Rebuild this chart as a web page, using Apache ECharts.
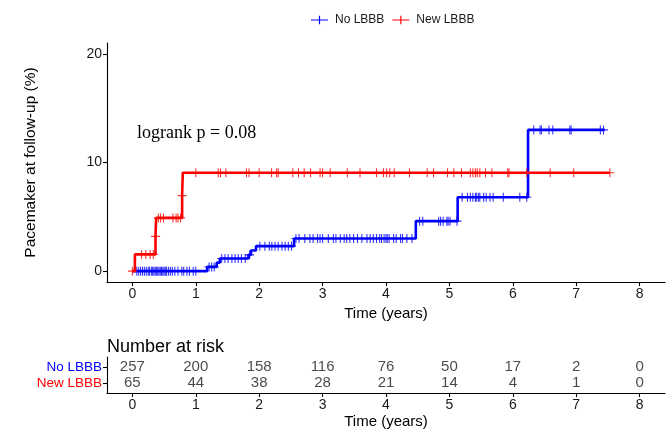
<!DOCTYPE html>
<html><head><meta charset="utf-8">
<script src="https://cdn.jsdelivr.net/npm/echarts@6/dist/echarts.min.js"></script>
<style>html,body{margin:0;padding:0;background:#fff}#c{width:670px;height:436px}</style>
</head><body><div id="c"></div>
<script>
// ---- data ----
const groups = ['No LBBB', 'New LBBB'];
const blueTimes = [0, 1.18, 1.33, 1.38, 1.83, 1.87, 1.95, 2.55, 4.47, 5.13, 6.24];
const blueValues = [0, 0.39, 0.78, 1.17, 1.5, 1.9, 2.3, 3.0, 4.6, 6.8, 13.0];
const blueEnd = 7.45;
const blueCensor = [0.07, 0.1, 0.13, 0.16, 0.19, 0.22, 0.25, 0.27, 0.3, 0.32, 0.34, 0.36, 0.38, 0.4, 0.42, 0.44, 0.46, 0.48, 0.5, 0.52, 0.54, 0.57, 0.6, 0.63, 0.67, 0.72, 0.78, 0.81, 0.86, 0.9, 0.96, 1.0, 1.21, 1.25, 1.29, 1.41, 1.46, 1.51, 1.57, 1.62, 1.67, 1.72, 1.78, 1.85, 2.01, 2.09, 2.16, 2.2, 2.25, 2.3, 2.36, 2.41, 2.46, 2.51, 2.58, 2.63, 2.72, 2.8, 2.85, 2.92, 2.96, 3.0, 3.09, 3.17, 3.21, 3.28, 3.34, 3.38, 3.43, 3.49, 3.55, 3.62, 3.7, 3.75, 3.8, 3.85, 3.9, 3.93, 3.97, 4.0, 4.02, 4.05, 4.12, 4.16, 4.23, 4.26, 4.33, 4.41, 4.53, 4.58, 4.83, 4.86, 4.9, 4.96, 4.98, 5.01, 5.12, 5.2, 5.285, 5.33, 5.37, 5.41, 5.43, 5.46, 5.48, 5.54, 5.58, 5.64, 5.69, 5.85, 6.11, 6.22, 6.33, 6.43, 6.45, 6.57, 6.63, 6.9, 6.92, 7.38, 7.43];
const redTimes = [0, 0.04, 0.365, 0.375, 0.785, 0.795];
const redValues = [0, 1.54, 3.2, 4.9, 6.95, 9.06];
const redEnd = 7.53;
const redCensor = [0, 0.145, 0.21, 0.28, 0.33, 0.365, 0.41, 0.445, 0.49, 0.64, 0.69, 0.72, 0.76, 0.785, 1.0, 1.355, 1.39, 1.475, 1.80, 1.84, 2.0, 2.195, 2.275, 2.30, 2.53, 2.62, 2.71, 2.81, 2.96, 3.0, 3.12, 3.39, 3.59, 3.85, 3.96, 4.01, 4.06, 4.13, 4.37, 4.65, 4.75, 4.97, 5.07, 5.19, 5.33, 5.37, 5.41, 5.44, 5.48, 5.57, 5.67, 5.92, 5.94, 6.22, 6.59, 6.96, 7.53];
const riskTimes = [0, 1, 2, 3, 4, 5, 6, 7, 8];
const riskNoLBBB = [257, 200, 158, 116, 76, 50, 17, 2, 0];
const riskNewLBBB = [65, 44, 38, 28, 21, 14, 4, 1, 0];
const xTicks = [0, 1, 2, 3, 4, 5, 6, 7, 8];
const yTicks = [0, 10, 20];
const pText = 'logrank p = 0.08';

// ---- helpers ----
function stepData(times, values, end) {
  const d = times.map((t, i) => [t, values[i]]);
  d.push([end, values[values.length - 1]]);
  return d;
}
function valueAt(times, values, t) {
  let v = values[0];
  for (let i = 0; i < times.length; i++) if (times[i] <= t + 1e-9) v = values[i];
  return v;
}
const plus = 'path://M4.4,0 H5.6 V4.4 H10 V5.6 H5.6 V10 H4.4 V5.6 H0 V4.4 H4.4 Z';
const legendIcon = 'path://M0,4.4 H9.3 V0 H10.7 V4.4 H20 V5.6 H10.7 V10 H9.3 V5.6 H0 Z';
const BLUE = '#0000FF', RED = '#FF0000', TXT = '#1a1a1a';
const SANS = 'Liberation Sans';

const chart = echarts.init(document.getElementById('c'), null, {renderer: 'canvas'});
const axisLine = {show: true, onZero: false, lineStyle: {color: '#000', width: 1.1}};
const axisTick = (vals) => ({show: true, length: 4, lineStyle: {color: '#000', width: 1.1}, customValues: vals});

chart.setOption({
  animation: false,
  backgroundColor: '#fff',
  title: [
    {text: pText, left: 132, top: 119, textStyle: {fontFamily: 'Liberation Serif', fontWeight: 'normal', fontSize: 18, color: '#000'}},
    {text: 'Number at risk', left: 102, top: 333, textStyle: {fontFamily: SANS, fontWeight: 'normal', fontSize: 18, color: '#000'}}
  ],
  legend: {
    data: [
      {name: groups[0], icon: legendIcon, itemStyle: {color: BLUE}},
      {name: groups[1], icon: legendIcon, itemStyle: {color: RED}}
    ],
    left: 306, top: 9, itemWidth: 17, itemHeight: 9, itemGap: 8,
    textStyle: {fontFamily: SANS, fontSize: 12, color: TXT, padding: [0, 0, 0, 2]},
    selectedMode: false
  },
  grid: [
    {left: 107, right: 5, top: 43, bottom: 154},
    {left: 107, right: 5, top: 357, height: 36}
  ],
  xAxis: [
    {type: 'value', gridIndex: 0, min: -0.4, max: 8.4, splitLine: {show: false},
     axisLine: axisLine, axisTick: axisTick(xTicks),
     axisLabel: {customValues: xTicks, fontFamily: SANS, fontSize: 14, color: TXT, margin: 5},
     name: 'Time (years)', nameLocation: 'middle', nameGap: 21,
     nameTextStyle: {fontFamily: SANS, fontSize: 15, color: '#000'}},
    {type: 'value', gridIndex: 1, min: -0.4, max: 8.4, splitLine: {show: false},
     axisLine: axisLine, axisTick: axisTick(xTicks),
     axisLabel: {customValues: xTicks, fontFamily: SANS, fontSize: 14, color: TXT, margin: 5},
     name: 'Time (years)', nameLocation: 'middle', nameGap: 21,
     nameTextStyle: {fontFamily: SANS, fontSize: 15, color: '#000'}}
  ],
  yAxis: [
    {type: 'value', gridIndex: 0, min: -1, max: 21, splitLine: {show: false},
     axisLine: axisLine, axisTick: axisTick(yTicks),
     axisLabel: {customValues: yTicks, fontFamily: SANS, fontSize: 14, color: TXT, margin: 5},
     name: 'Pacemaker at follow-up (%)', nameLocation: 'middle', nameGap: 68, nameRotate: 90,
     nameTextStyle: {fontFamily: SANS, fontSize: 15.5, color: '#000'}},
    {type: 'value', gridIndex: 1, min: 0.4, max: 2.6, splitLine: {show: false},
     axisLine: axisLine, axisTick: axisTick([1, 2]),
     axisLabel: {customValues: [1, 2], fontFamily: SANS, fontSize: 13.5, margin: 5,
       formatter: v => v === 2 ? '{b|' + groups[0] + '}' : '{r|' + groups[1] + '}',
       rich: {b: {color: BLUE, fontFamily: SANS, fontSize: 13.5}, r: {color: RED, fontFamily: SANS, fontSize: 13.5}}}}
  ],
  series: [
    {name: groups[0], type: 'line', step: 'end', xAxisIndex: 0, yAxisIndex: 0, symbol: 'none',
     lineStyle: {color: BLUE, width: 2.6}, itemStyle: {color: BLUE}, z: 2,
     data: stepData(blueTimes, blueValues, blueEnd)},
    {name: groups[0], type: 'scatter', xAxisIndex: 0, yAxisIndex: 0, symbol: plus, symbolSize: 9,
     itemStyle: {color: BLUE}, z: 2,
     data: blueCensor.map(t => [t, valueAt(blueTimes, blueValues, t)])},
    {name: groups[1], type: 'line', step: 'end', xAxisIndex: 0, yAxisIndex: 0, symbol: 'none',
     lineStyle: {color: RED, width: 2.6}, itemStyle: {color: RED}, z: 3,
     data: stepData(redTimes, redValues, redEnd)},
    {name: groups[1], type: 'scatter', xAxisIndex: 0, yAxisIndex: 0, symbol: plus, symbolSize: 9,
     itemStyle: {color: RED}, z: 3,
     data: redCensor.map(t => [t, valueAt(redTimes, redValues, t)])},
    {type: 'scatter', xAxisIndex: 1, yAxisIndex: 1, symbolSize: 0, silent: true,
     label: {show: true, position: 'inside', formatter: p => String(p.value[2]), fontFamily: SANS, fontSize: 15, color: TXT},
     data: riskTimes.map((t, i) => [t, 2, riskNoLBBB[i]]).concat(riskTimes.map((t, i) => [t, 1, riskNewLBBB[i]]))}
  ]
});
</script></body></html>
